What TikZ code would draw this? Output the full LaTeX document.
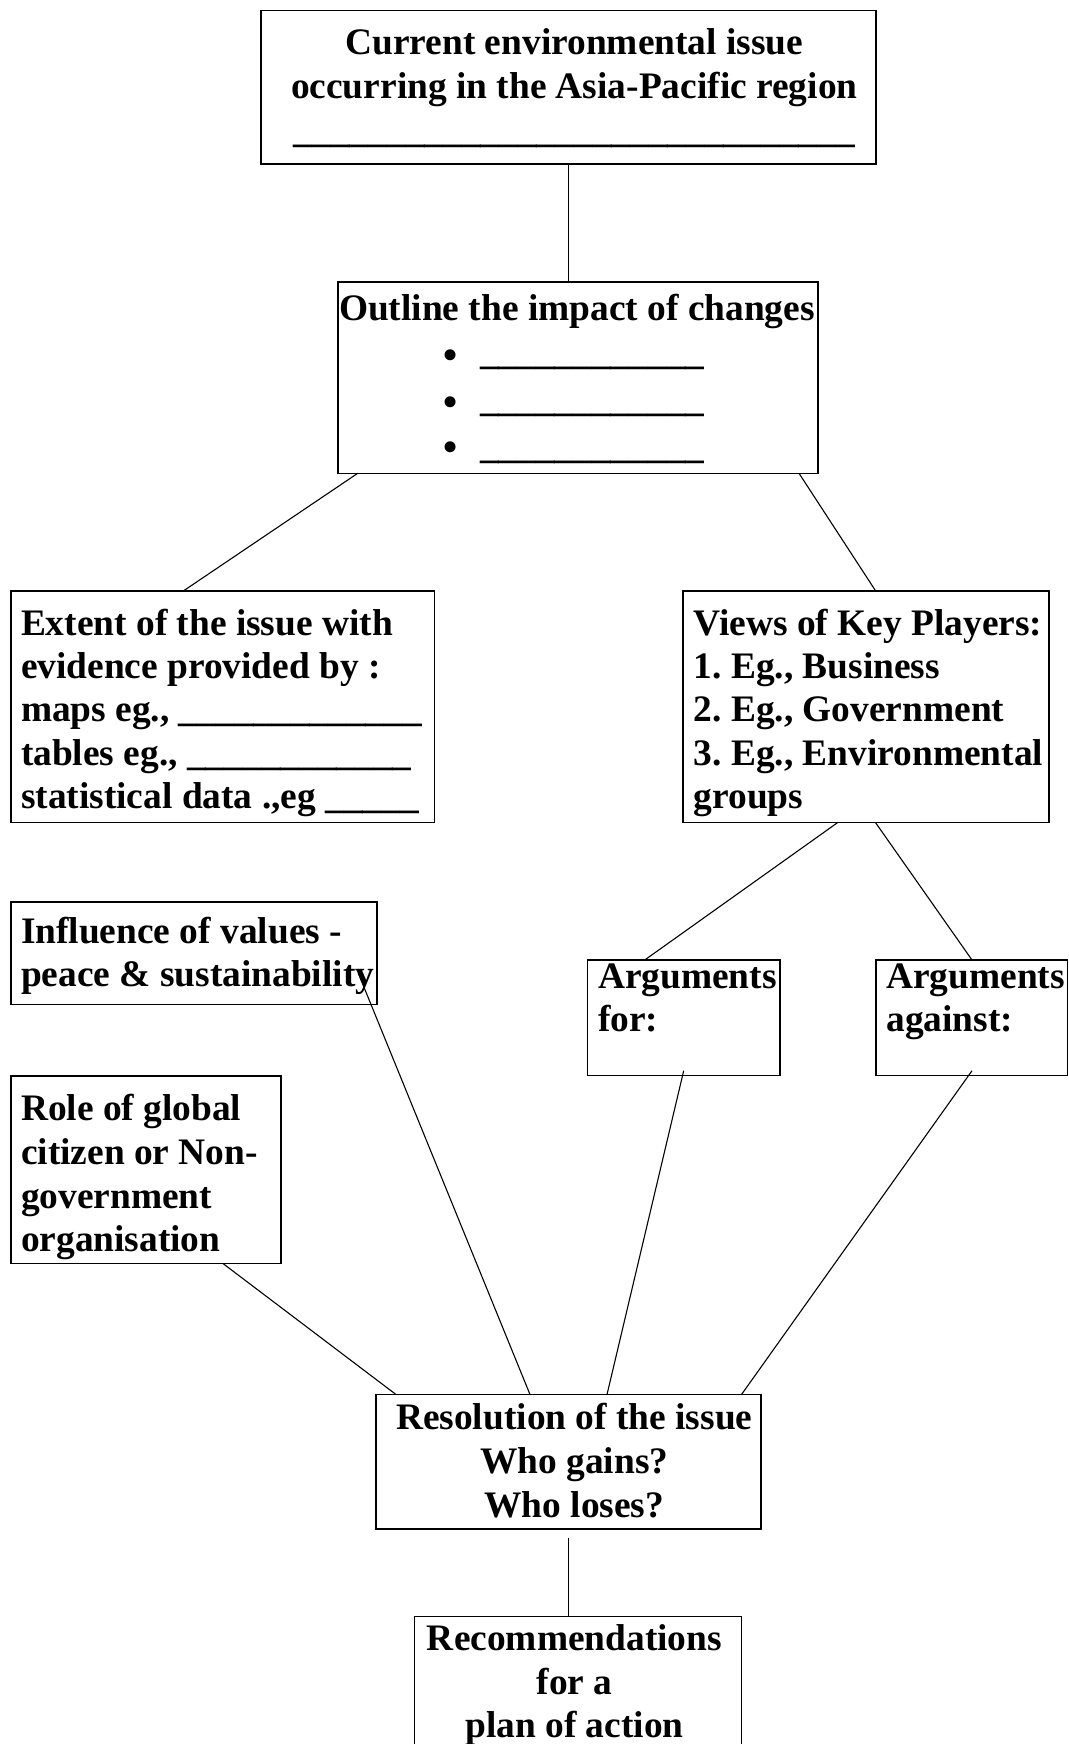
\documentclass[tikz,border=0pt]{standalone}
\usepackage{fontspec}
\setmainfont{Liberation Serif}
\begin{document}
\frenchspacing
\begin{tikzpicture}[x=1pt,y=-1pt,
  box/.style={draw=black, line width=1.6pt, rectangle, inner sep=0pt, outer sep=0pt, anchor=north west},
  txt/.style={inner sep=0pt, outer sep=0pt, font=\fontsize{37.4}{43.8}\selectfont\bfseries\frenchspacing, anchor=base west},
  ctxt/.style={txt, anchor=base},
  bul/.style={inner sep=0pt, outer sep=0pt, font=\fontsize{46}{46}\selectfont, anchor=base},
  link/.style={draw=black, line width=1.1pt}]
\useasboundingbox[fill=white] (0,0) rectangle (1068,1744);
\clip (0,0) rectangle (1068,1744);

% boxes
\node[box, minimum width=615pt, minimum height=153.3pt] (b1) at (261,10.7) {};
\node[box, minimum width=480.3pt, minimum height=191.6pt] (b2) at (337.7,281.7) {};
\node[box, minimum width=423.3pt, minimum height=231.3pt] (b3) at (11,591) {};
\node[box, minimum width=365.7pt, minimum height=231.3pt] (b4) at (683,591) {};
\node[box, minimum width=365.7pt, minimum height=102.6pt] (b5) at (11,901.7) {};
\node[box, minimum width=192.4pt, minimum height=115.5pt] (b6) at (587.3,960) {};
\node[box, minimum width=191.6pt, minimum height=115.5pt] (b7) at (875.7,960) {};
\node[box, minimum width=269.7pt, minimum height=187.6pt] (b8) at (11,1075.7) {};
\node[box, minimum width=385pt, minimum height=134.5pt] (b9) at (376,1394.5) {};
\node[box, minimum width=327pt, minimum height=200pt] (b10) at (414.3,1616.3) {};

% texts: box 1
\node[ctxt] (t1a) at (574.3,55) {Current environmental issue};
\node[ctxt] (t1b) at (574.3,98.5) {occurring in the Asia-Pacific region};
\node[ctxt] (t1c) at (574.3,143) {\_\_\_\_\_\_\_\_\_\_\_\_\_\_\_\_\_\_\_\_\_\_\_\_\_\_\_\_\_\_};
% box 2
\node[txt] (t2a) at (339,320) {Outline the impact of changes};
\node[bul] (k1) at (451,370.5) {•};
\node[bul] (k2) at (451,417.2) {•};
\node[bul] (k3) at (451,462.2) {•};
\node[txt] (t2b) at (480,364.6) {\_\_\_\_\_\_\_\_\_\_\_\_};
\node[txt] (t2c) at (480,411.3) {\_\_\_\_\_\_\_\_\_\_\_\_};
\node[txt] (t2d) at (480,458) {\_\_\_\_\_\_\_\_\_\_\_\_};
% box 3
\node[txt] (t3a) at (21,635) {Extent of the issue with};
\node[txt] (t3b) at (21,678.3) {evidence provided by :};
\node[txt] (t3c) at (21,721.7) {maps eg., \_\_\_\_\_\_\_\_\_\_\_\_\_};
\node[txt] (t3d) at (21,765) {tables eg., \_\_\_\_\_\_\_\_\_\_\_\_};
\node[txt] (t3e) at (21,808.5) {statistical data .,eg \_\_\_\_\_};
% box 4
\node[txt] (t4a) at (693.7,635) {Views of Key Players:};
\node[txt] (t4b) at (693.7,678.3) {1. Eg., Business};
\node[txt] (t4c) at (693.7,721.7) {2. Eg., Government};
\node[txt] (t4d) at (693.7,765) {3. Eg., Environmental};
\node[txt] (t4e) at (693.7,808.5) {groups};
% box 5
\node[txt] (t5a) at (21,943.3) {Influence of values -};
\node[txt] (t5b) at (21,986.7) {peace \& sustainability};
% box 6, 7
\node[txt] (t6a) at (598,988.3) {Arguments};
\node[txt] (t6b) at (598,1031.7) {for:};
\node[txt] (t7a) at (886.3,988.3) {Arguments};
\node[txt] (t7b) at (886.3,1031.7) {against:};
% box 8
\node[txt] (t8a) at (21,1120) {Role of global};
\node[txt] (t8b) at (21,1164) {citizen or Non-};
\node[txt] (t8c) at (21,1208.3) {government};
\node[txt] (t8d) at (21,1251.7) {organisation};
% box 9
\node[ctxt] (t9a) at (574.3,1429) {Resolution of the issue};
\node[ctxt] (t9b) at (574.3,1473.5) {Who gains?};
\node[ctxt] (t9c) at (574.3,1517.3) {Who loses?};
% box 10
\node[ctxt] (t10a) at (574.5,1650) {Recommendations};
\node[ctxt] (t10b) at (574.5,1694) {for a};
\node[ctxt] (t10c) at (574.5,1737.5) {plan of action};

% connectors
\draw[link] (b1.south) -- (b1.south |- b2.north);
\draw[link] ([xshift=20pt]b2.south west) -- ([xshift=172.3pt]b3.north west);
\draw[link] ([xshift=-19pt]b2.south east) -- ([xshift=192.7pt]b4.north west);
\draw[link] ([xshift=155pt]b4.south west) -- ([xshift=57.4pt]b6.north west);
\draw[link] ([xshift=192.3pt]b4.south west) -- ([xshift=96.3pt]b7.north west);
\draw[link] ([xshift=-18.4pt,yshift=-71.6pt]b5.north east) -- ([xshift=154pt]b9.north west);
\draw[link] ([xshift=211.7pt]b8.south west) -- ([xshift=20pt]b9.north west);
\draw[link] ([xshift=96.4pt,yshift=4.8pt]b6.south west) -- ([xshift=231pt]b9.north west);
\draw[link] ([xshift=96.3pt,yshift=4.8pt]b7.south west) -- ([xshift=-19.5pt]b9.north east);
\draw[link] ([yshift=-9pt]b9.south) -- (b9.south |- b10.north);
\end{tikzpicture}
\end{document}
